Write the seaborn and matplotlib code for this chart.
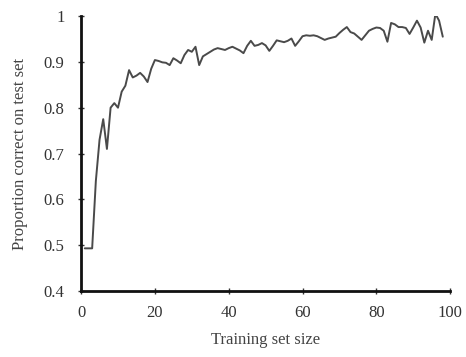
import matplotlib
matplotlib.use("Agg")
import matplotlib.pyplot as plt
import seaborn as sns
import pandas as pd

# training set sizes and proportion correct on test set
train_size = list(range(1, 99))
prop_correct = [
    0.493, 0.493, 0.493, 0.640, 0.730, 0.775, 0.710, 0.800, 0.810, 0.800,
    0.835, 0.848, 0.882, 0.866, 0.870, 0.876, 0.868, 0.856, 0.885, 0.904,
    0.902, 0.899, 0.898, 0.893, 0.908, 0.903, 0.897, 0.915, 0.926, 0.922,
    0.933, 0.893, 0.912, 0.917, 0.922, 0.927, 0.930, 0.928, 0.926, 0.930,
    0.933, 0.929, 0.925, 0.919, 0.935, 0.946, 0.935, 0.937, 0.941, 0.936,
    0.924, 0.935, 0.947, 0.945, 0.943, 0.946, 0.951, 0.935, 0.945, 0.956,
    0.958, 0.957, 0.958, 0.956, 0.952, 0.948, 0.951, 0.953, 0.955, 0.963,
    0.970, 0.976, 0.965, 0.962, 0.955, 0.948, 0.958, 0.968, 0.972, 0.975,
    0.974, 0.968, 0.944, 0.985, 0.982, 0.976, 0.976, 0.974, 0.961, 0.975,
    0.990, 0.975, 0.942, 0.968, 0.948, 1.005, 0.990, 0.955,
]
x_ticks = [0, 20, 40, 60, 80, 100]
y_ticks = [0.4, 0.5, 0.6, 0.7, 0.8, 0.9, 1.0]
y_tick_labels = ["0.4", "0.5", "0.6", "0.7", "0.8", "0.9", "1"]

df = pd.DataFrame({"size": train_size, "correct": prop_correct})

sns.set_style("ticks")
plt.rcParams["font.family"] = ["Liberation Serif", "DejaVu Serif"]

fig = plt.figure(figsize=(4.66, 3.57), dpi=100)
ax = fig.add_axes([0.174, 0.185, 0.792, 0.77])
sns.lineplot(data=df, x="size", y="correct", color="#4a4a4a", linewidth=1.4, ax=ax)

ax.set_xlim(0, 100)
ax.set_ylim(0.4, 1.0)
ax.set_xticks(x_ticks)
ax.set_yticks(y_ticks)
ax.set_yticklabels(y_tick_labels)
ax.tick_params(direction="inout", length=4, width=1, labelsize=12, colors="#333333")
ax.tick_params(axis="y", pad=10)
ax.tick_params(axis="x", pad=8)
ax.set_xlabel("Training set size", fontsize=12, color="#444444")
ax.set_ylabel("Proportion correct on test set", fontsize=12, color="#444444")
ax.yaxis.set_label_coords(-0.145, 0.5)
ax.xaxis.set_label_coords(0.5, -0.15)
sns.despine(ax=ax)
for side in ["left", "bottom"]:
    ax.spines[side].set_linewidth(2)
    ax.spines[side].set_color("#111111")

fig.savefig("out.png", dpi=100)
